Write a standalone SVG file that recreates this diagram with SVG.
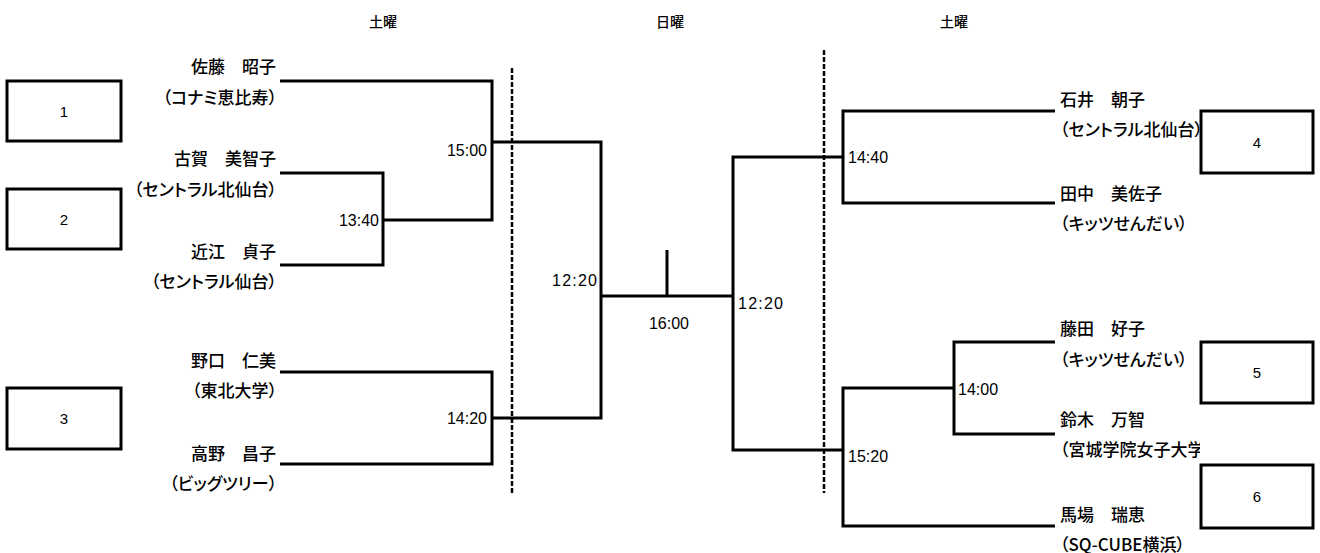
<svg xmlns="http://www.w3.org/2000/svg" width="1320" height="553" viewBox="0 0 1320 553">
<style>
text{font-family:"Liberation Sans","Noto Sans CJK JP",sans-serif;fill:#000;dominant-baseline:central}
.nm,.pr{font-family:"Noto Sans CJK JP",sans-serif;font-size:17px;font-weight:500;font-feature-settings:"palt"}
.t{font-size:16px}
.hd{font-family:"Noto Sans CJK JP",sans-serif;font-size:14px;font-weight:500;text-anchor:middle}
.num{font-size:15px;text-anchor:middle}
.r{text-anchor:end}
.box{fill:#fff;stroke:#000;stroke-width:3}
.ln{fill:none;stroke:#000;stroke-width:3}
.ds{fill:none;stroke:#000;stroke-width:2.5;stroke-dasharray:5 2}
</style>
<defs>
<clipPath id="clipR"><rect x="1040" y="0" width="160" height="553"/></clipPath>
</defs>
<rect width="1320" height="553" fill="#fff"/>
<g id="headers">
<text class="hd" x="383" y="21">土曜</text>
<text class="hd" x="670" y="21">日曜</text>
<text class="hd" x="954" y="21">土曜</text>
</g>
<g id="divider-lines">
<line class="ds" x1="512" y1="68" x2="512" y2="495"/>
<line class="ds" x1="824" y1="50" x2="824" y2="493"/>
</g>
<g id="connectors">
<polyline class="ln" points="280,81 492,81 492,220 383,220"/>
<polyline class="ln" points="280,173 383,173 383,265 280,265"/>
<polyline class="ln" points="280,372 492,372 492,464 280,464"/>
<polyline class="ln" points="492,142 601,142 601,418 492,418"/>
<line class="ln" x1="601" y1="296" x2="733" y2="296"/>
<line class="ln" x1="667" y1="250" x2="667" y2="296"/>
<polyline class="ln" points="843,157 733,157 733,450 843,450"/>
<polyline class="ln" points="1055,111 843,111 843,203 1055,203"/>
<polyline class="ln" points="1055,342 954,342 954,434 1055,434"/>
<polyline class="ln" points="954,388 843,388 843,526 1055,526"/>
</g>
<g id="times">
<text class="t r" x="379" y="220">13:40</text>
<text class="t r" x="487" y="150">15:00</text>
<text class="t r" x="487" y="418">14:20</text>
<text class="t r" x="597" y="280" textLength="45" lengthAdjust="spacing">12:20</text>
<text class="t" x="669" y="323" text-anchor="middle">16:00</text>
<text class="t" x="738" y="303" textLength="45" lengthAdjust="spacing">12:20</text>
<text class="t" x="848" y="157">14:40</text>
<text class="t" x="958" y="389">14:00</text>
<text class="t" x="848" y="456">15:20</text>
</g>
<g id="p-sato"><text class="nm r" x="276" y="65">佐藤　昭子</text><text class="pr r" x="277" y="96">（コナミ恵比寿）</text></g>
<g id="p-koga"><text class="nm r" x="276" y="157">古賀　美智子</text><text class="pr r" x="277" y="188">（セントラル北仙台）</text></g>
<g id="p-oumi"><text class="nm r" x="276" y="250">近江　貞子</text><text class="pr r" x="277" y="280">（セントラル仙台）</text></g>
<g id="p-noguchi"><text class="nm r" x="276" y="359">野口　仁美</text><text class="pr r" x="277" y="389">（東北大学）</text></g>
<g id="p-takano"><text class="nm r" x="276" y="452">高野　昌子</text><text class="pr r" x="277" y="482">（ビッグツリー）</text></g>
<g id="p-ishii"><text class="nm" x="1060" y="98">石井　朝子</text><text class="pr" x="1060" y="128">（セントラル北仙台）</text></g>
<g id="p-tanaka"><text class="nm" x="1060" y="192">田中　美佐子</text><text class="pr" x="1060" y="222">（キッツせんだい）</text></g>
<g id="p-fujita"><text class="nm" x="1060" y="327">藤田　好子</text><text class="pr" x="1060" y="358">（キッツせんだい）</text></g>
<g id="p-suzuki" clip-path="url(#clipR)"><text class="nm" x="1060" y="418">鈴木　万智</text><text class="pr" x="1060" y="448">（宮城学院女子大学）</text></g>
<g id="p-baba"><text class="nm" x="1060" y="513">馬場　瑞恵</text><text class="pr" x="1060" y="543">（SQ-CUBE横浜）</text></g>
<g id="box1"><rect class="box" x="7" y="81" width="114" height="60"/><text class="num" x="64" y="111">1</text></g>
<g id="box2"><rect class="box" x="7" y="189" width="114" height="60"/><text class="num" x="64" y="219">2</text></g>
<g id="box3"><rect class="box" x="7" y="388" width="114" height="61"/><text class="num" x="64" y="418">3</text></g>
<g id="box4"><rect class="box" x="1201" y="111" width="112" height="62"/><text class="num" x="1257" y="142">4</text></g>
<g id="box5"><rect class="box" x="1201" y="342" width="112" height="61"/><text class="num" x="1257" y="372">5</text></g>
<g id="box6"><rect class="box" x="1201" y="465" width="112" height="63"/><text class="num" x="1257" y="496">6</text></g>
</svg>
